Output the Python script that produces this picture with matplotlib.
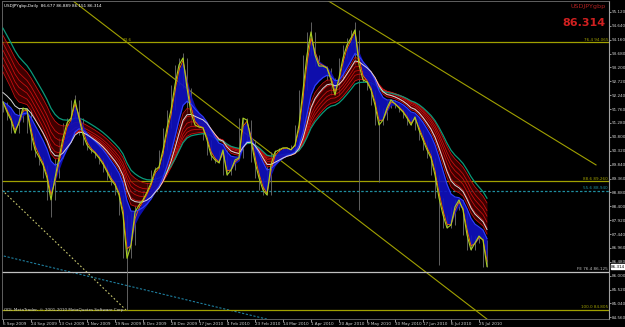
import numpy as np
import matplotlib
matplotlib.use("Agg")
import matplotlib.pyplot as plt

# ---------------- data ----------------
# closes sampled every 2 daily bars (bar index = 2*k)
closes = [92.01, 91.66, 91.38, 90.93, 91.32, 91.80, 91.73, 90.93, 90.35, 90.10,
          89.83, 89.38, 88.62, 89.38, 90.07, 90.76, 91.28, 91.45, 92.08, 91.45,
          90.87, 90.52, 90.35, 90.24, 90.07, 89.86, 89.59, 89.31, 89.14, 88.79,
          88.10, 86.60, 87.06, 88.20, 88.44, 88.62, 88.89, 89.20, 89.65, 89.76,
          90.35, 91.11, 91.73, 92.60, 93.29, 93.53, 92.49, 91.63, 91.21, 91.14,
          91.11, 90.69, 90.17, 90.00, 89.90, 90.35, 89.48, 89.65, 90.00, 90.07,
          91.45, 91.38, 90.69, 89.93, 89.38, 88.96, 88.79, 89.83, 90.28, 90.35,
          90.42, 90.42, 90.35, 90.52, 91.21, 92.42, 93.63, 94.43, 93.63, 93.25,
          93.25, 93.18, 92.77, 92.25, 92.84, 93.53, 93.98, 94.22, 94.50, 93.29,
          92.77, 92.70, 92.42, 91.90, 91.21, 91.38, 91.80, 92.08, 91.94, 91.80,
          91.66, 91.45, 91.21, 91.49, 91.04, 90.69, 90.35, 90.07, 89.48, 88.69,
          88.10, 87.65, 87.75, 88.38, 88.62, 88.27, 87.41, 86.89, 87.13, 87.37,
          87.23, 86.314]
bar_step = 2

# notable long wicks (sample index, price reached)
spike_k = [12, 18, 31, 45, 77, 88, 89, 94, 109]
spike_val = [88.03, 92.25, 84.81, 93.70, 94.77, 94.77, 88.27, 89.24, 86.37]

# moving-average ribbons (periods in daily bars) and their starting values
blue_periods = [3, 5, 8, 10, 12, 15]
red_periods = [18, 22, 26, 30, 34, 40]
red_seed = [93.30, 93.55, 93.80, 94.05, 94.30, 94.55]
white_period = 21
white_seed = 92.40
teal_period = 44
teal_seed = 94.80

# horizontal levels
levels = [94.065, 89.260, 88.940, 86.125, 84.805]
level_labels = ["76.4 94.065", "88.6 89.260", "55.6 88.940", "FE 76.4 86.125", "100.0 84.805"]
level_colors = ["#a0a000", "#a0a000", "#1f8fa0", "#c0c0c0", "#a0a000"]

# trend lines: (bar, price) anchor pairs
trend_a = [(34.5, 95.53), (242.5, 84.47)]
trend_b = [(162.0, 95.53), (296.5, 89.83)]
trend_c = [(-0.5, 88.96), (61.5, 84.81)]
trend_d = [(-1.5, 86.71), (133.5, 84.47)]

price_ticks = [95.120, 94.640, 94.160, 93.680, 93.200, 92.720, 92.240, 91.760,
               91.280, 90.800, 90.320, 89.840, 89.360, 88.880, 88.400, 87.920,
               87.440, 86.960, 86.480, 86.000, 85.520, 85.040, 84.560]
date_labels = ["6 Sep 2009", "24 Sep 2009", "13 Oct 2009", "1 Nov 2009", "19 Nov 2009",
               "8 Dec 2009", "28 Dec 2009", "17 Jan 2010", "4 Feb 2010", "23 Feb 2010",
               "14 Mar 2010", "1 Apr 2010", "20 Apr 2010", "9 May 2010", "30 May 2010",
               "17 Jun 2010", "6 Jul 2010", "25 Jul 2010"]
date_bars = [0, 14, 28, 42, 56, 70, 84, 98, 112, 126, 140, 154, 168, 182, 196, 210, 224, 238]
header = "USDJPYgbp,Daily  86.677 86.889 86.151 86.314"
last_price = 86.314

# ---------------- helpers ----------------
def ema(vals, period, seed=None):
    n = period / bar_step
    a = 2.0 / (n + 1.0)
    out = []
    prev = vals[0] if seed is None else seed
    for v in vals:
        prev = prev + a * (v - prev)
        out.append(prev)
    return np.array(out)

c = np.array(closes)
xb = np.arange(len(c)) * bar_step
hi = np.array([max(c[max(i - 1, 0):i + 2]) for i in range(len(c))])
lo = np.array([min(c[max(i - 1, 0):i + 2]) for i in range(len(c))])
for k, v in zip(spike_k, spike_val):
    if v > c[k]:
        hi[k] = max(hi[k], v)
    else:
        lo[k] = min(lo[k], v)

# ---------------- figure ----------------
W, H = 625, 327
FS = 3.0
fig = plt.figure(figsize=(W / 100, H / 100), dpi=100, facecolor="black")
ax = fig.add_axes([2 / W, (H - 319) / H, (609 - 2) / W, (319 - 1) / H])
ax.set_facecolor("black")
ax.set_xlim(-0.5, 303)
ax.set_ylim(84.50, 95.50)

# trend lines
for (p1, p2), col, ls in [(trend_a, "#a0a000", "-"), (trend_b, "#a0a000", "-"),
                          (trend_c, "#c8c870", (0, (1.5, 2))), (trend_d, "#1f7f9f", (0, (2, 1.5)))]:
    ax.plot([p1[0], p2[0]], [p1[1], p2[1]], color=col, lw=0.8, ls=ls, zorder=2)

# horizontal levels
for lv, lab, col in zip(levels, level_labels, level_colors):
    ls = (0, (2, 1.5)) if col == "#1f8fa0" else "-"
    ax.axhline(lv, color=col, lw=0.9, ls=ls, zorder=2)
    ax.text(302.5, lv + 0.03, lab, color=col, fontsize=FS, ha="right", va="bottom", zorder=6)
ax.text(60, 94.065 + 0.03, "23.6", color="#a0a000", fontsize=FS, ha="left", va="bottom")

# wicks
ax.vlines(xb, lo, hi, color="#707070", lw=0.6, zorder=3)

# red ribbon
reds = [ema(c, p, s) for p, s in zip(red_periods, red_seed)]
rmin = np.min(reds, axis=0)
rmax = np.max(reds, axis=0)
ax.fill_between(xb, rmin, rmax, color="#5a0000", alpha=0.7, lw=0, zorder=3)
for r in reds:
    ax.plot(xb, r, color="#d01010", lw=0.55, zorder=4)

# teal line
ax.plot(xb, ema(c, teal_period, teal_seed), color="#0a9a7a", lw=0.9, zorder=4)

# blue ribbon
blues = [ema(c, p) for p in blue_periods]
bmin = np.min(blues, axis=0)
bmax = np.max(blues, axis=0)
ax.fill_between(xb, bmin, bmax, color="#1010c0", alpha=0.9, lw=0, zorder=5)
ax.plot(xb, blues[0], color="#ff6a00", lw=0.6, zorder=6)
ax.plot(xb, blues[-1], color="#3040ff", lw=0.8, zorder=6)

# white line
ax.plot(xb, ema(c, white_period, white_seed), color="#d8d8d8", lw=0.7, zorder=6)

# price line
ax.plot(xb, c, color="#a8d020", lw=0.8, zorder=7)

# axes styling
for s in ["top", "left", "bottom"]:
    ax.spines[s].set_color("#707070")
    ax.spines[s].set_linestyle((0, (1, 1)))
    ax.spines[s].set_linewidth(0.6)
ax.spines["right"].set_color("#a0a0a0")
ax.spines["right"].set_linewidth(0.8)
ax.yaxis.tick_right()
ax.set_yticks(price_ticks)
ax.set_yticklabels([f"{t:.3f}" for t in price_ticks])
ax.tick_params(axis="y", colors="#d0d0d0", labelsize=FS, length=1.5, width=0.5, pad=0.5)
ax.set_xticks(date_bars)
ax.set_xticklabels(date_labels)
ax.tick_params(axis="x", colors="#d0d0d0", labelsize=FS, length=2, width=0.5, pad=0.5)
for lab in ax.get_xticklabels():
    lab.set_ha("left")

# texts
ax.text(0.003, 0.99, header, transform=ax.transAxes, color="white", fontsize=FS,
        ha="left", va="top")
ax.text(0.995, 0.99, "USDJPYgbp", transform=ax.transAxes, color="#b02020", fontsize=4.6,
        ha="right", va="top")
ax.text(0.995, 0.945, f"{last_price:.3f}", transform=ax.transAxes, color="#d02020",
        fontsize=8, fontweight="bold", ha="right", va="top")
ax.text(0.003, 0.022, "ODL MetaTrader, \u00a9 2001-2010 MetaQuotes Software Corp.",
        transform=ax.transAxes, color="#d0d0d0", fontsize=FS, ha="left", va="bottom")
ax.annotate(f"{last_price:.3f}", xy=(1.0, last_price), xycoords=("axes fraction", "data"),
            xytext=(1.5, 0), textcoords="offset points", fontsize=FS, color="black",
            ha="left", va="center",
            bbox=dict(boxstyle="square,pad=0.1", fc="white", ec="white"), annotation_clip=False)

fig.savefig("out.png", dpi=100, facecolor="black")
